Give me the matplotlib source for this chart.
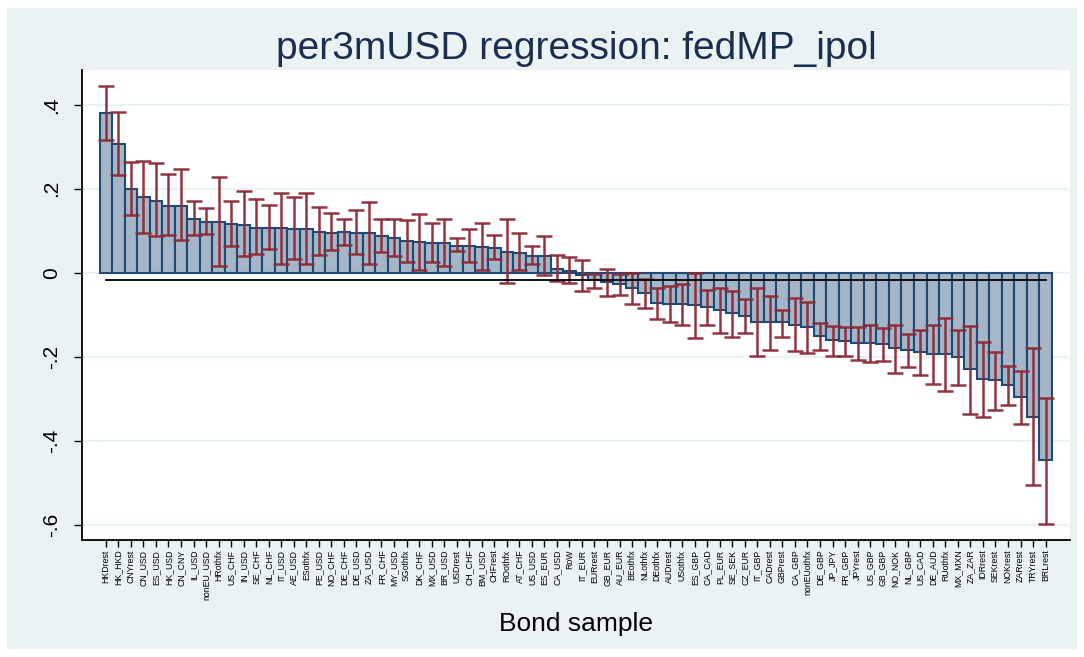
import matplotlib
matplotlib.use("Agg")
import matplotlib.pyplot as plt
from matplotlib.patches import Rectangle
import numpy as np

categories = ["HKDrest", "HK_HKD", "CNYrest", "CN_USD", "ES_USD", "HK_USD", "CN_CNY", "IL_USD",
              "nonEU_USD", "HRothfx", "US_CHF", "IN_USD", "SE_CHF", "NL_CHF", "IT_USD", "AE_USD",
              "ESothfx", "PE_USD", "NO_CHF", "DE_CHF", "DE_USD", "ZA_USD", "FR_CHF", "MY_USD",
              "SGothfx", "DK_CHF", "MX_USD", "BR_USD", "USDrest", "CH_CHF", "BM_USD", "CHFrest",
              "ROothfx", "AT_CHF", "US_USD", "ES_EUR", "CA_USD", "RoW", "IT_EUR", "EURrest",
              "GB_EUR", "AU_EUR", "BEothfx", "NLothfx", "DEothfx", "AUDrest", "USothfx", "ES_GBP",
              "CA_CAD", "PL_EUR", "SE_SEK", "CZ_EUR", "IT_GBP", "CADrest", "GBPrest", "CA_GBP",
              "nonEUothfx", "DE_GBP", "JP_JPY", "FR_GBP", "JPYrest", "US_GBP", "GB_GBP", "NO_NOK",
              "NL_GBP", "US_CAD", "DE_AUD", "RUothfx", "MX_MXN", "ZA_ZAR", "IDRrest", "SEKrest",
              "NOKrest", "ZARrest", "TRYrest", "BRLrest"]

coef = [0.380, 0.306, 0.199, 0.180, 0.172, 0.160, 0.160, 0.129,
        0.121, 0.121, 0.116, 0.115, 0.108, 0.108, 0.106, 0.105,
        0.104, 0.098, 0.096, 0.097, 0.096, 0.094, 0.087, 0.084,
        0.075, 0.073, 0.071, 0.071, 0.065, 0.063, 0.061, 0.060,
        0.050, 0.048, 0.041, 0.040, 0.010, 0.005, -0.004, -0.018,
        -0.021, -0.026, -0.037, -0.048, -0.071, -0.074, -0.074, -0.076,
        -0.082, -0.089, -0.096, -0.102, -0.116, -0.117, -0.118, -0.123,
        -0.129, -0.151, -0.160, -0.162, -0.168, -0.168, -0.170, -0.180,
        -0.183, -0.188, -0.193, -0.194, -0.200, -0.230, -0.253, -0.256,
        -0.267, -0.295, -0.342, -0.445]

ci_high = [0.445, 0.383, 0.264, 0.267, 0.262, 0.236, 0.247, 0.171,
           0.155, 0.229, 0.171, 0.194, 0.176, 0.162, 0.191, 0.180,
           0.190, 0.157, 0.143, 0.129, 0.150, 0.169, 0.129, 0.129,
           0.125, 0.141, 0.118, 0.128, 0.083, 0.105, 0.119, 0.090,
           0.128, 0.096, 0.063, 0.088, 0.042, 0.037, 0.031, -0.002,
           0.009, -0.002, -0.001, -0.014, -0.035, -0.032, -0.027, 0.000,
           -0.040, -0.036, -0.043, -0.063, -0.036, -0.055, -0.088, -0.061,
           -0.069, -0.120, -0.126, -0.129, -0.130, -0.125, -0.132, -0.123,
           -0.145, -0.136, -0.123, -0.108, -0.137, -0.127, -0.164, -0.188,
           -0.221, -0.233, -0.180, -0.297]

ci_low = [0.317, 0.233, 0.137, 0.095, 0.087, 0.090, 0.078, 0.089,
          0.092, 0.017, 0.065, 0.040, 0.044, 0.056, 0.022, 0.032,
          0.022, 0.042, 0.055, 0.066, 0.045, 0.021, 0.049, 0.040,
          0.026, 0.006, 0.027, 0.017, 0.051, 0.025, 0.007, 0.034,
          -0.025, 0.006, 0.022, -0.006, -0.020, -0.023, -0.043, -0.036,
          -0.056, -0.053, -0.074, -0.083, -0.110, -0.118, -0.124, -0.155,
          -0.125, -0.144, -0.152, -0.142, -0.198, -0.183, -0.152, -0.186,
          -0.191, -0.183, -0.198, -0.198, -0.208, -0.213, -0.210, -0.238,
          -0.224, -0.243, -0.264, -0.282, -0.266, -0.336, -0.344, -0.327,
          -0.315, -0.360, -0.506, -0.597]

ref_line_value = -0.017
y_ticks = [-0.6, -0.4, -0.2, 0.0, 0.2, 0.4]
y_ticklabels = ["-.6", "-.4", "-.2", "0", ".2", ".4"]
title = "per3mUSD regression: fedMP_ipol"
xlabel = "Bond sample"

plt.rcParams['font.family'] = ['Liberation Sans', 'DejaVu Sans']

W, H = 1084, 657
fig = plt.figure(figsize=(W / 100, H / 100), dpi=100)
fig.patch.set_facecolor("white")
bg = "#eaf2f3"
fig.add_artist(Rectangle((7 / W, 8 / H), 1070 / W, 641 / H, transform=fig.transFigure,
                         facecolor=bg, edgecolor="none", zorder=-10))

ax = fig.add_axes([82 / W, (H - 540) / H, (1070 - 82) / W, (540 - 70) / H])
ax.set_zorder(1)
ax.set_facecolor("white")

x = np.arange(len(categories))
coef_a = np.array(coef)
hi = np.array(ci_high)
lo = np.array(ci_low)

ax.bar(x, coef_a, width=1.0, color="#a6b6c6", edgecolor="#1f4a75", linewidth=1.5, zorder=2)
ax.errorbar(x, (hi + lo) / 2, yerr=(hi - lo) / 2, fmt="none", ecolor="#8c2a38",
            elinewidth=1.8, capsize=5.5, capthick=1.8, zorder=3, alpha=0.95)
ax.plot([x[0], x[-1]], [ref_line_value, ref_line_value], color="black", lw=1.3, zorder=4)

ax.set_xlim(-1.9, 76.95)
ax.set_ylim(-0.636, 0.483)
ax.set_yticks(y_ticks)
ax.set_yticklabels(y_ticklabels, rotation=90, va="center", fontsize=15)
ax.yaxis.grid(True, color=bg, lw=1.6, zorder=0)
ax.set_axisbelow(True)
ax.set_xticks(x)
ax.set_xticklabels(categories, rotation=90, fontsize=6.3)
ax.tick_params(axis="x", length=5, width=1, pad=2)
ax.tick_params(axis="y", length=6, width=1, pad=9)
for s in ["top", "right"]:
    ax.spines[s].set_visible(False)
for s in ["left", "bottom"]:
    ax.spines[s].set_linewidth(1.3)

ax.set_title(title, fontsize=28, color="#1c2e4e", pad=8)
ax.set_xlabel(xlabel, fontsize=19, labelpad=9)

fig.savefig("out.png", dpi=100, facecolor=fig.get_facecolor())
